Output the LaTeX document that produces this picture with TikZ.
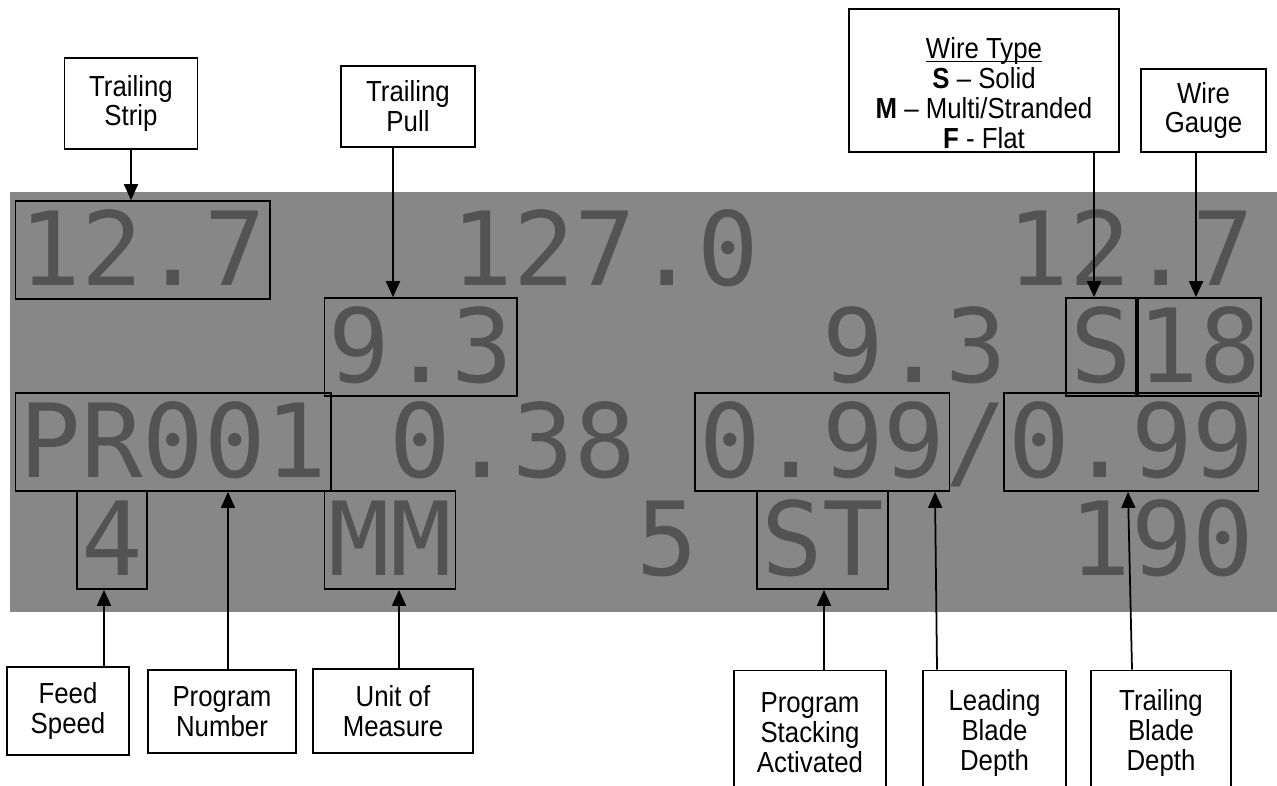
\documentclass[tikz,border=0pt]{standalone}
\usepackage{fontspec}
\setmainfont{Liberation Sans}[FakeStretch=0.89]
\newfontfamily\lcdfont{DejaVu Sans Mono}
\usetikzlibrary{arrows.meta}
\definecolor{lcdgray}{HTML}{878787}
\definecolor{lcddot}{HTML}{535353}
\tikzstyle{lcdtxt}=[anchor=base west,inner xsep=0.08cm,inner ysep=0pt,text height=1.68cm,text depth=0.28cm,font=\lcdfont\fontsize{58.2}{60}\selectfont,text=lcddot]
\tikzstyle{lcdbox}=[lcdtxt,draw=black,line width=1pt]
\tikzstyle{cbox}=[rectangle,draw=black,fill=white,line width=1pt,inner sep=0pt,align=center,font=\fontsize{16.5}{17}\selectfont]
\tikzstyle{cline}=[->,line width=1pt,>={Triangle[length=0.32cm,width=0.28cm]}]

\begin{document}
\begin{tikzpicture}[x=0.02cm,y=-0.02cm]
\useasboundingbox (0,0) rectangle (1277,785);
\clip (0,0) rectangle (1277,785);
% display panel
\fill[lcdgray] (10,192) rectangle (1277,612);
% row 1
\node[lcdbox] (vtstrip) at (14.6,285) {12.7};
\node[lcdtxt] (v1270) at (447.2,285) {127.0};
\node[lcdtxt] (v127b) at (1003.4,285) {12.7};
% row 2
\node[lcdbox] (vtpull) at (323.6,382) {9.3};
\node[lcdtxt] (v93b) at (818,382) {9.3};
\node[lcdbox] (vwtype) at (1065.2,382) {S};
\node[lcdbox,inner xsep=0pt] (vwgauge) at (1137,382) {18};
% row 3
\node[lcdbox] (vpnum) at (14.6,477) {PR001};
\node[lcdtxt] (v038) at (385.4,477) {0.38};
\node[lcdbox] (vlblade) at (694.4,477) {0.99};
\node[lcdtxt] (vslash) at (941.6,477) {/};
\node[lcdbox] (vtblade) at (1003.4,477) {0.99};
% row 4
\node[lcdbox] (vfspeed) at (76.4,575) {4};
\node[lcdbox] (vunit) at (323.6,575) {MM};
\node[lcdtxt] (v5) at (632.6,575) {5};
\node[lcdbox] (vpstack) at (756.2,575) {ST};
\node[lcdtxt] (v190) at (1065.2,575) {190};
% callouts above
\node[cbox,minimum width=2.66cm,minimum height=1.82cm] (tstrip) at (131,103.5) {Trailing\\Strip};
\node[cbox,minimum width=2.68cm,minimum height=1.62cm] (tpull) at (408,106.5) {Trailing\\Pull};
\node[cbox,minimum width=5.4cm,minimum height=2.86cm] (wtype) at (984,80.5) {\rule{0pt}{26pt}\underline{\smash{Wire Type}}\\\textbf{S} – Solid\\\textbf{M} – Multi/Stranded\\\textbf{F} - Flat};
\node[cbox,minimum width=2.5cm,minimum height=1.66cm] (wgauge) at (1203.5,110.5) {Wire\\Gauge};
% callouts below
\node[cbox,minimum width=2.44cm,minimum height=1.76cm] (fspeed) at (68,711) {Feed\\Speed};
\node[cbox,minimum width=2.96cm,minimum height=1.66cm] (pnum) at (222,711.5) {Program\\Number};
\node[cbox,minimum width=3.2cm,minimum height=1.68cm] (unit) at (393,711) {Unit of\\Measure};
\node[cbox,minimum width=3.04cm,minimum height=2.5cm] (pstack) at (810,733) {Program\\Stacking\\Activated};
\node[cbox,minimum width=2.86cm,minimum height=2.5cm] (lblade) at (994.5,733) {Leading\\Blade\\Depth};
\node[cbox,minimum width=2.8cm,minimum height=2.5cm] (tblade) at (1161,733) {Trailing\\Blade\\Depth};
% connectors
\draw[cline] (tstrip.south) -- (vtstrip.north -| tstrip.south);
\draw[cline] (tpull.south -| 393,0) -- (vtpull.north -| 393,0);
\draw[cline] (wtype.south -| 1094,0) -- (vwtype.north -| 1094,0);
\draw[cline] (wgauge.south -| 1196,0) -- (vwgauge.north -| 1196,0);
\draw[cline] (fspeed.north -| 104,0) -- (vfspeed.south -| 104,0);
\draw[cline] (pnum.north -| 228,0) -- (vpnum.south -| 228,0);
\draw[cline] (unit.north -| 399,0) -- (vunit.south -| 399,0);
\draw[cline] (pstack.north -| 824,0) -- (vpstack.south -| 824,0);
\draw[cline] (lblade.north -| 937,0) -- (vlblade.south -| 935,0);
\draw[cline] (tblade.north -| 1132,0) -- (vtblade.south -| 1128,0);
\end{tikzpicture}
\end{document}
